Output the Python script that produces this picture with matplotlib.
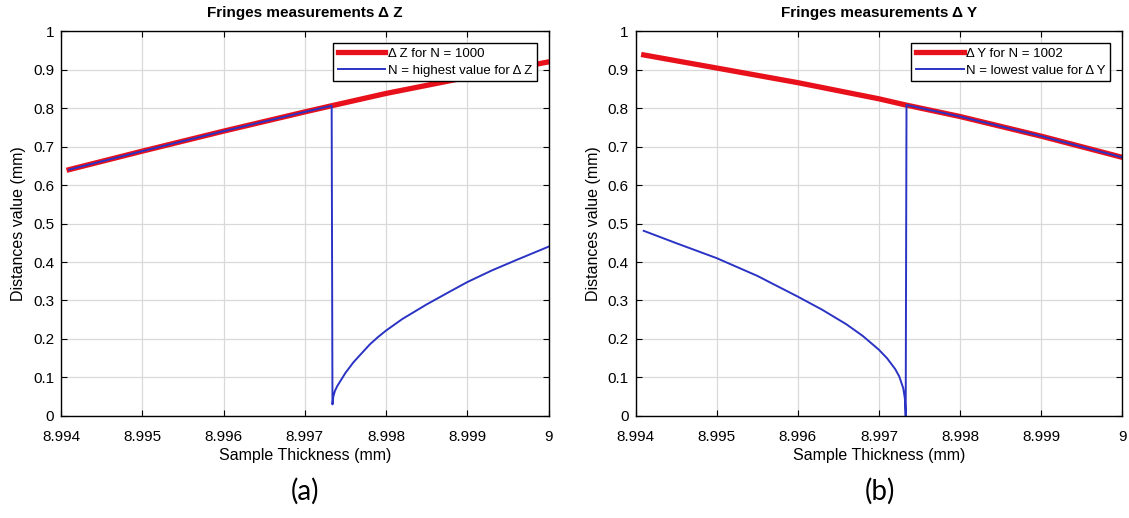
import matplotlib
matplotlib.use("Agg")
import matplotlib.pyplot as plt

plt.rcParams['font.family'] = ['Liberation Sans', 'DejaVu Sans']

# (a) Delta Z
z_red_x = [8.9941, 8.995, 8.996, 8.997, 8.99733, 8.998, 8.999, 9.0]
z_red_y = [0.640, 0.688, 0.740, 0.790, 0.806, 0.838, 0.880, 0.920]

z_blue_x = [8.9941, 8.995, 8.996, 8.997, 8.99733, 8.99734, 8.99735, 8.99737,
            8.9974, 8.99745, 8.9975, 8.9976, 8.9977, 8.9978, 8.9979, 8.998,
            8.9982, 8.9985, 8.9988, 8.999, 8.9993, 8.9996, 9.0]
z_blue_y = [0.640, 0.688, 0.740, 0.790, 0.806, 0.03, 0.05, 0.065,
            0.078, 0.095, 0.112, 0.140, 0.163, 0.186, 0.205, 0.222,
            0.252, 0.290, 0.325, 0.348, 0.378, 0.405, 0.440]

# (b) Delta Y
y_red_x = [8.9941, 8.995, 8.996, 8.997, 8.99733, 8.998, 8.999, 9.0]
y_red_y = [0.938, 0.904, 0.866, 0.824, 0.808, 0.778, 0.727, 0.672]

y_blue_x = [8.9941, 8.9945, 8.995, 8.9955, 8.996, 8.9963, 8.9966, 8.9968,
            8.997, 8.9971, 8.9972, 8.99725, 8.9973, 8.99732, 8.99733,
            8.99734, 8.998, 8.999, 9.0]
y_blue_y = [0.481, 0.449, 0.410, 0.364, 0.310, 0.276, 0.238, 0.208,
            0.172, 0.150, 0.122, 0.103, 0.072, 0.045, 0.0,
            0.808, 0.778, 0.727, 0.672]

x_ticks = [8.994, 8.995, 8.996, 8.997, 8.998, 8.999, 9.0]
x_tick_labels = ["8.994", "8.995", "8.996", "8.997", "8.998", "8.999", "9"]
y_ticks = [0, 0.1, 0.2, 0.3, 0.4, 0.5, 0.6, 0.7, 0.8, 0.9, 1]
y_tick_labels = ["0", "0.1", "0.2", "0.3", "0.4", "0.5", "0.6", "0.7", "0.8", "0.9", "1"]

RED = "#e8101a"
BLUE = "#2b33c4"


def style_axes(ax, title):
    ax.set_xlim(8.994, 9.0)
    ax.set_ylim(0, 1)
    ax.set_xticks(x_ticks)
    ax.set_xticklabels(x_tick_labels)
    ax.set_yticks(y_ticks)
    ax.set_yticklabels(y_tick_labels)
    ax.tick_params(direction="in", top=True, right=True, length=4,
                   labelsize=11)
    ax.tick_params(axis="x", pad=10)
    ax.tick_params(axis="y", pad=5)
    ax.grid(True, color="#d9d9d9", linewidth=0.9)
    ax.set_axisbelow(True)
    for sp in ax.spines.values():
        sp.set_linewidth(1.0)
    ax.set_title(title, fontsize=11, fontweight="bold", pad=10)
    ax.set_xlabel("Sample Thickness (mm)", fontsize=11.5, labelpad=3)
    ax.set_ylabel("Distances value (mm)", fontsize=11.5, labelpad=5)


def make_legend(ax):
    leg = ax.legend(loc="upper right", fontsize=9.5, fancybox=False,
                    framealpha=1, edgecolor="black", handlelength=3.6,
                    handletextpad=0.2, labelspacing=0.35, borderpad=0.35,
                    borderaxespad=0.9)
    leg.get_frame().set_linewidth(1.0)


def main():
    fig = plt.figure(figsize=(11.29, 5.18), dpi=100)
    ax1 = fig.add_axes([0.054, 0.197, 0.432, 0.743])
    ax2 = fig.add_axes([0.563, 0.197, 0.431, 0.743])

    ax1.plot(z_red_x, z_red_y, color=RED, linewidth=3.8, label="Δ Z for N = 1000")
    ax1.plot(z_blue_x, z_blue_y, color=BLUE, linewidth=1.4,
             label="N = highest value for Δ Z")
    style_axes(ax1, "Fringes measurements Δ Z")
    make_legend(ax1)

    ax2.plot(y_red_x, y_red_y, color=RED, linewidth=3.8, label="Δ Y for N = 1002")
    ax2.plot(y_blue_x, y_blue_y, color=BLUE, linewidth=1.4,
             label="N = lowest value for Δ Y")
    style_axes(ax2, "Fringes measurements Δ Y")
    make_legend(ax2)

    fig.text(0.27, 0.052, "(a)", fontsize=20, family=["Lato", "DejaVu Sans"],
             ha="center", va="center")
    fig.text(0.779, 0.052, "(b)", fontsize=20, family=["Lato", "DejaVu Sans"],
             ha="center", va="center")

    fig.savefig("out.png", dpi=100)


if __name__ == "__main__":
    main()
